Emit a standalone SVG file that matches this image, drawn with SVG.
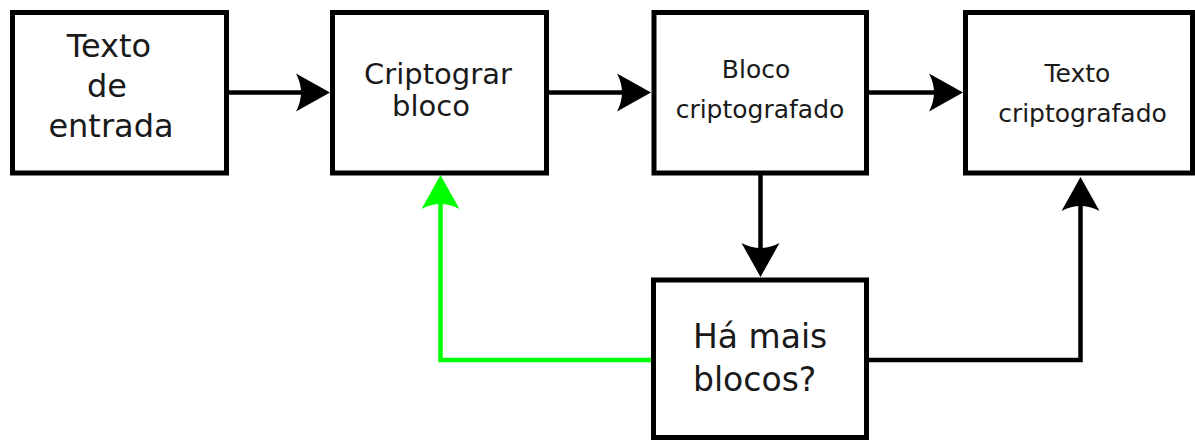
<svg xmlns="http://www.w3.org/2000/svg" width="1195" height="441" viewBox="0 0 1195 441">
  <style>
    .box { fill: #ffffff; stroke: #000000; stroke-width: 5; }
    .lbl { font-family: "DejaVu Sans", "Liberation Sans", sans-serif; fill: #1a1a1a; }
    .c { text-anchor: middle; }
    .conn { fill: none; stroke: #000000; stroke-width: 4.5; }
    .green { stroke: #00ff00; }
  </style>
  <defs>
    <marker id="ah" markerUnits="userSpaceOnUse" viewBox="-36 -20 38 40" markerWidth="38" markerHeight="40" refX="-25" refY="0" orient="auto">
      <path d="M0,0 L-34,-19 Q-24,0 -34,19 Z" fill="#000000"/>
    </marker>
    <marker id="ahg" markerUnits="userSpaceOnUse" viewBox="-36 -20 38 40" markerWidth="38" markerHeight="40" refX="-25" refY="0" orient="auto">
      <path d="M0,0 L-34,-19 Q-24,0 -34,19 Z" fill="#00ff00"/>
    </marker>
  </defs>
  <rect width="1195" height="441" fill="#ffffff"/>

  <g id="connectors">
    <path class="conn" d="M228,92.5 H305" marker-end="url(#ah)"/>
    <path class="conn" d="M548,92.5 H626" marker-end="url(#ah)"/>
    <path class="conn" d="M868.5,92.5 H938" marker-end="url(#ah)"/>
    <path class="conn" d="M760.5,175 V252" marker-end="url(#ah)"/>
    <path class="conn green" d="M651,360 H440.5 V200" marker-end="url(#ahg)"/>
    <path class="conn" d="M869,360 H1080.5 V202" marker-end="url(#ah)"/>
  </g>

  <g id="texto-entrada">
    <rect class="box" x="12.5" y="12.5" width="214" height="160.5"/>
    <text class="lbl c" font-size="32" x="109" y="57">Texto</text>
    <text class="lbl c" font-size="32" x="107" y="97">de</text>
    <text class="lbl c" font-size="32" x="111" y="137">entrada</text>
  </g>

  <g id="criptografar-bloco">
    <rect class="box" x="332.5" y="12.5" width="214" height="160.5"/>
    <text class="lbl c" font-size="29" x="438" y="84">Criptograr</text>
    <text class="lbl c" font-size="29" x="431" y="116">bloco</text>
  </g>

  <g id="bloco-criptografado">
    <rect class="box" x="654" y="12.5" width="212.5" height="160.5"/>
    <text class="lbl c" font-size="25" x="756" y="78">Bloco</text>
    <text class="lbl c" font-size="25" x="760" y="118">criptografado</text>
  </g>

  <g id="texto-criptografado">
    <rect class="box" x="965.5" y="12.5" width="227" height="160.5"/>
    <text class="lbl c" font-size="25" x="1077.5" y="82">Texto</text>
    <text class="lbl c" font-size="25" x="1082.5" y="122">criptografado</text>
  </g>

  <g id="ha-mais-blocos">
    <rect class="box" x="653.5" y="280" width="213" height="157.5"/>
    <text class="lbl" font-size="33" x="693" y="348">Há mais</text>
    <text class="lbl" font-size="33" x="693" y="391">blocos?</text>
  </g>
</svg>
